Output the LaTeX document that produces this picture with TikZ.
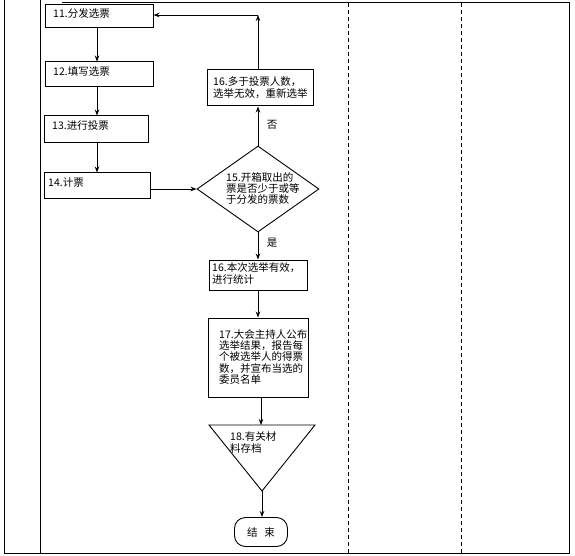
\documentclass[tikz,border=0pt]{standalone}
\usepackage{fontspec}
\newfontfamily\cjk{Noto Sans CJK SC}
\usetikzlibrary{arrows.meta,shapes.geometric}
\begin{document}
\begin{tikzpicture}[x=1pt,y=-1pt,
  box/.style={draw, line width=1pt, inner sep=0pt},
  txt/.style={font=\cjk\fontsize{10.5}{11.3}\selectfont, inner sep=0pt, anchor=west, align=left},
  arr/.style={-{Stealth[length=6pt,width=4.5pt]}, line width=0.9pt},
  frame/.style={line width=1pt},
  lane/.style={line width=0.9pt, dash pattern=on 4pt off 3pt}]
\useasboundingbox (0,0) rectangle (575,556);
% frame
\draw[frame] (4,0) -- (4,553) -- (569,553) -- (569,3) -- (62,3);
\draw[frame] (40,0) -- (40,553);
\draw[lane] (348,3) -- (348,553);
\draw[lane] (461,3) -- (461,553);
% left boxes
\node[box, minimum width=108pt, minimum height=23pt] (b11) at (99,16.5) {};
\node[box, minimum width=108pt, minimum height=25pt] (b12) at (99,74.5) {};
\node[box, minimum width=104pt, minimum height=27pt] (b13) at (96,129.5) {};
\node[box, minimum width=106pt, minimum height=25pt] (b14) at (97,185.5) {};
\node[txt] (t11) at (53,14) {11.分发选票};
\node[txt] (t12) at (53,72) {12.填写选票};
\node[txt] (t13) at (52,126) {13.进行投票};
\node[txt] (t14) at (48,183) {14.计票};
% decision
\node[draw, diamond, line width=0.9pt, inner sep=0pt, minimum width=122pt, minimum height=86pt] (dia) at (258,189) {};
\node[txt] (t15) at (226,188.5) {15.开箱取出的\\票是否少于或等\\于分发的票数};
% no branch
\node[box, minimum width=106pt, minimum height=36pt] (b16n) at (260,88) {};
\node[txt] (t16n) at (213,87.5) {16.多于投票人数，\\选举无效，重新选举};
% yes branch
\node[box, minimum width=98pt, minimum height=30pt] (b16y) at (258,275) {};
\node[txt] (t16y) at (212,273.5) {16.本次选举有效，\\进行统计};
\node[box, minimum width=100pt, minimum height=79pt] (b17) at (258,357.5) {};
\node[txt] (t17) at (219,357) {17.大会主持人公布\\选举结果，报告每\\个被选举人的得票\\数，并宣布当选的\\委员名单};
% triangle
\coordinate (triL) at (209,425);
\coordinate (triR) at (315,425);
\coordinate (triTop) at (261,425);
\coordinate (triBot) at (262,491);
\draw[line width=0.9pt] (triL) -- (triR) -- (triBot) -- cycle;
\node[txt] (t18) at (230,442.5) {18.有关材\\料存档};
% terminator
\node[draw, line width=0.9pt, rounded corners=11pt, minimum width=53pt, minimum height=29pt, inner sep=0pt,
  font=\cjk\fontsize{10.5}{11.3}\selectfont] (end) at (261,532) {结\hspace{7pt}束};
% connectors
\draw[arr] ([xshift=-2pt]b11.south) -- ([xshift=-2pt]b12.north);
\draw[arr] ([xshift=-2pt]b12.south) -- ([xshift=-2pt]b12.south |- b13.north);
\draw[arr] ([xshift=1pt]b13.south) -- ([xshift=1pt]b13.south |- b14.north);
\draw[arr] (b14.east |- dia.west) -- (dia.west);
\draw[arr] (dia.north) -- (dia.north |- b16n.south);
\coordinate (c1) at (258,15);
\draw[arr] (b16n.north -| dia.north) -- (c1);
\draw[arr] (c1) -- (c1 -| b11.east);
\draw[arr] (dia.south) -- (dia.south |- b16y.north);
\draw[arr] (b16y.south) -- (b17.north);
\draw[arr] (b17.south -| triTop) -- (triTop);
\draw[arr] (triBot) -- (end.north -| triBot);
% labels
\node[font=\cjk\fontsize{10.5}{11.3}\selectfont, inner sep=0pt] (lno) at (272,125) {否};
\node[font=\cjk\fontsize{10.5}{11.3}\selectfont, inner sep=0pt] (lyes) at (272,243) {是};
\end{tikzpicture}
\end{document}
